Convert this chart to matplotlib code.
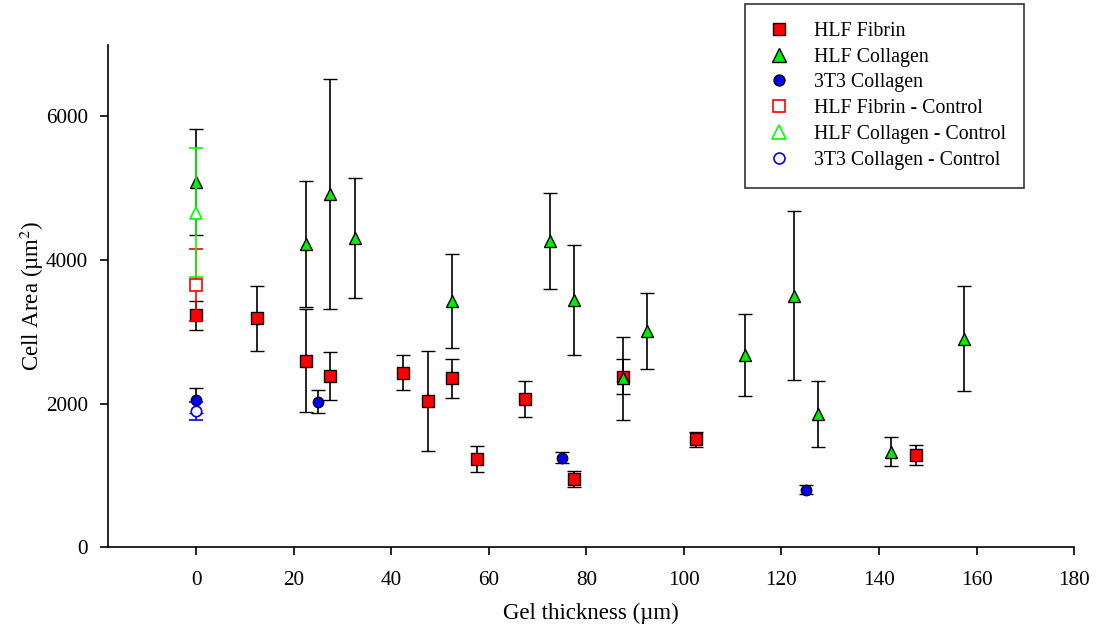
import matplotlib.pyplot as plt
import numpy as np

plt.rcParams['font.family'] = ['Liberation Serif', 'DejaVu Serif']
plt.rcParams['mathtext.fontset'] = 'stix'

# HLF on fibrin
fib_x = [0, 12.5, 22.5, 27.5, 42.5, 47.5, 52.5, 57.5, 67.5, 77.5, 87.5, 102.5, 147.5]
fib_y = [3230, 3190, 2600, 2385, 2430, 2035, 2355, 1235, 2065, 955, 2375, 1505, 1285]
fib_err = [205, 450, 720, 335, 245, 700, 270, 180, 255, 110, 245, 105, 140]

# HLF on collagen
col_x = [0, 22.5, 27.5, 32.5, 52.5, 72.5, 77.5, 87.5, 92.5, 112.5, 122.5, 127.5, 142.5, 157.5]
col_y = [5085, 4225, 4925, 4310, 3435, 4265, 3445, 2355, 3010, 2680, 3505, 1855, 1330, 2905]
col_err = [735, 880, 1600, 840, 655, 670, 770, 580, 530, 570, 1180, 460, 200, 730]

# 3T3 on collagen
t3_x = [0, 25, 75, 125]
t3_y = [2045, 2025, 1250, 805]
t3_err = [180, 160, 75, 60]

# controls (glass, thickness 0)
ctrl_x = [0]
fib_ctrl_y, fib_ctrl_err = [3655], [505]
col_ctrl_y, col_ctrl_err = [4660], [895]
t3_ctrl_y, t3_ctrl_err = [1900], [120]

fig = plt.figure(figsize=(10.96, 6.32), dpi=100)
ax = fig.add_axes([0.0988, 0.134, 0.8812, 0.7953])

cap = 5
ax.errorbar(fib_x, fib_y, yerr=fib_err, fmt='s', color='k', mfc='red', mec='k',
            ms=8, mew=1, ecolor='k', elinewidth=1.2, capsize=cap, capthick=1.2,
            label='HLF Fibrin', zorder=3)
ax.errorbar(col_x, col_y, yerr=col_err, fmt='^', color='k', mfc='#00ee00', mec='k',
            ms=9, mew=1, ecolor='k', elinewidth=1.2, capsize=cap, capthick=1.2,
            label='HLF Collagen', zorder=3)
ax.errorbar(t3_x, t3_y, yerr=t3_err, fmt='o', color='k', mfc='blue', mec='k',
            ms=7.5, mew=1, ecolor='k', elinewidth=1.2, capsize=cap, capthick=1.2,
            label='3T3 Collagen', zorder=3)
ax.errorbar(ctrl_x, fib_ctrl_y, yerr=fib_ctrl_err, fmt='s', color='red', mfc='white',
            mec='red', ms=8, mew=1.2, ecolor='red', elinewidth=1.2, capsize=cap,
            capthick=1.2, label='HLF Fibrin - Control', zorder=4)
ax.errorbar(ctrl_x, col_ctrl_y, yerr=col_ctrl_err, fmt='^', color='#00ff00', mfc='white',
            mec='#00ff00', ms=9, mew=1.2, ecolor='#00ff00', elinewidth=1.2, capsize=cap,
            capthick=1.2, label='HLF Collagen - Control', zorder=4)
ax.errorbar(ctrl_x, t3_ctrl_y, yerr=t3_ctrl_err, fmt='o', color='blue', mfc='white',
            mec='blue', ms=7.5, mew=1.2, ecolor='blue', elinewidth=1.2, capsize=cap,
            capthick=1.2, label='3T3 Collagen - Control', zorder=4)

ax.set_xlim(-18, 180)
ax.set_ylim(0, 7000)
ax.set_xticks(np.arange(0, 181, 20))
ax.set_yticks(np.arange(0, 6001, 2000))
ax.spines['top'].set_visible(False)
ax.spines['right'].set_visible(False)
for s in ['left', 'bottom']:
    ax.spines[s].set_linewidth(1.2)
ax.tick_params(direction='out', length=6, width=1.2, labelsize=15.3)
ax.tick_params(axis='x', pad=11)
ax.tick_params(axis='y', pad=8.5)

ax.set_xlabel('Gel thickness (µm)', fontsize=16.5, labelpad=9)
ax.set_ylabel('Cell Area (µm$^{2}$)', fontsize=16.5, labelpad=0)

handles, labels = ax.get_legend_handles_labels()
handles = [h[0] for h in handles]
leg = fig.legend(handles, labels, loc='upper left', bbox_to_anchor=(0.68, 0.994),
                 frameon=True, fancybox=False, fontsize=14.3, handlelength=1.6,
                 handletextpad=0.95, labelspacing=0.345, borderpad=0.9,
                 borderaxespad=0, markerscale=1.05)
leg.get_frame().set_edgecolor('k')
leg.get_frame().set_linewidth(1.2)

fig.savefig('out.png', dpi=100)
